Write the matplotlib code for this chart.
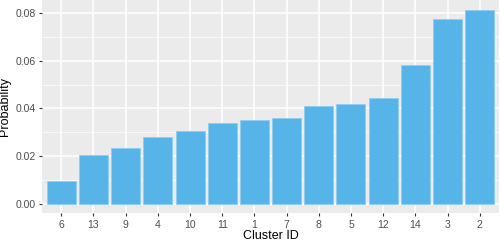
import matplotlib
matplotlib.use("Agg")
import matplotlib.pyplot as plt
from matplotlib.ticker import MultipleLocator

# cluster order as drawn, with probabilities
clusters = ["6", "13", "9", "4", "10", "11", "1", "7", "8", "5", "12", "14", "3", "2"]
probs = [0.0097, 0.0206, 0.0234, 0.0281, 0.0307, 0.0339, 0.0353,
         0.0360, 0.0412, 0.0417, 0.0444, 0.0581, 0.0773, 0.0814]

plt.rcParams['font.family'] = ['Liberation Sans', 'DejaVu Sans']

fig = plt.figure(figsize=(5, 2.42), dpi=100)
ax = fig.add_axes([0.084, 0.118, 0.914, 0.882])
ax.set_facecolor("#EBEBEB")

x = range(len(clusters))
ax.bar(x, probs, width=0.9, color="#56B4E9", edgecolor="#8FCDEF", linewidth=0.6, zorder=3)

top = max(probs)
ax.set_xlim(-0.6, len(clusters) - 0.4)
ax.set_xticks(list(x))
ax.set_xticklabels(clusters)
ax.yaxis.set_major_locator(MultipleLocator(0.02))
ax.yaxis.set_minor_locator(MultipleLocator(0.01))
ax.set_ylim(-0.05 * top, top * 1.05)
ax.yaxis.set_major_formatter(lambda v, pos: "%.2f" % v)

ax.grid(which="major", color="white", linewidth=1.1, zorder=0)
ax.grid(which="minor", axis="y", color="white", linewidth=0.5, zorder=0)
ax.set_axisbelow(True)
for s in ax.spines.values():
    s.set_visible(False)

ax.tick_params(which="major", length=2.5, width=0.8, color="#333333",
               labelsize=7.5, labelcolor="#4D4D4D", pad=2)
ax.tick_params(which="minor", length=0)

ax.set_xlabel("Cluster ID", fontsize=9, labelpad=0)
ax.set_ylabel("Probability", fontsize=9, labelpad=3)

fig.savefig("out.png", dpi=100)
